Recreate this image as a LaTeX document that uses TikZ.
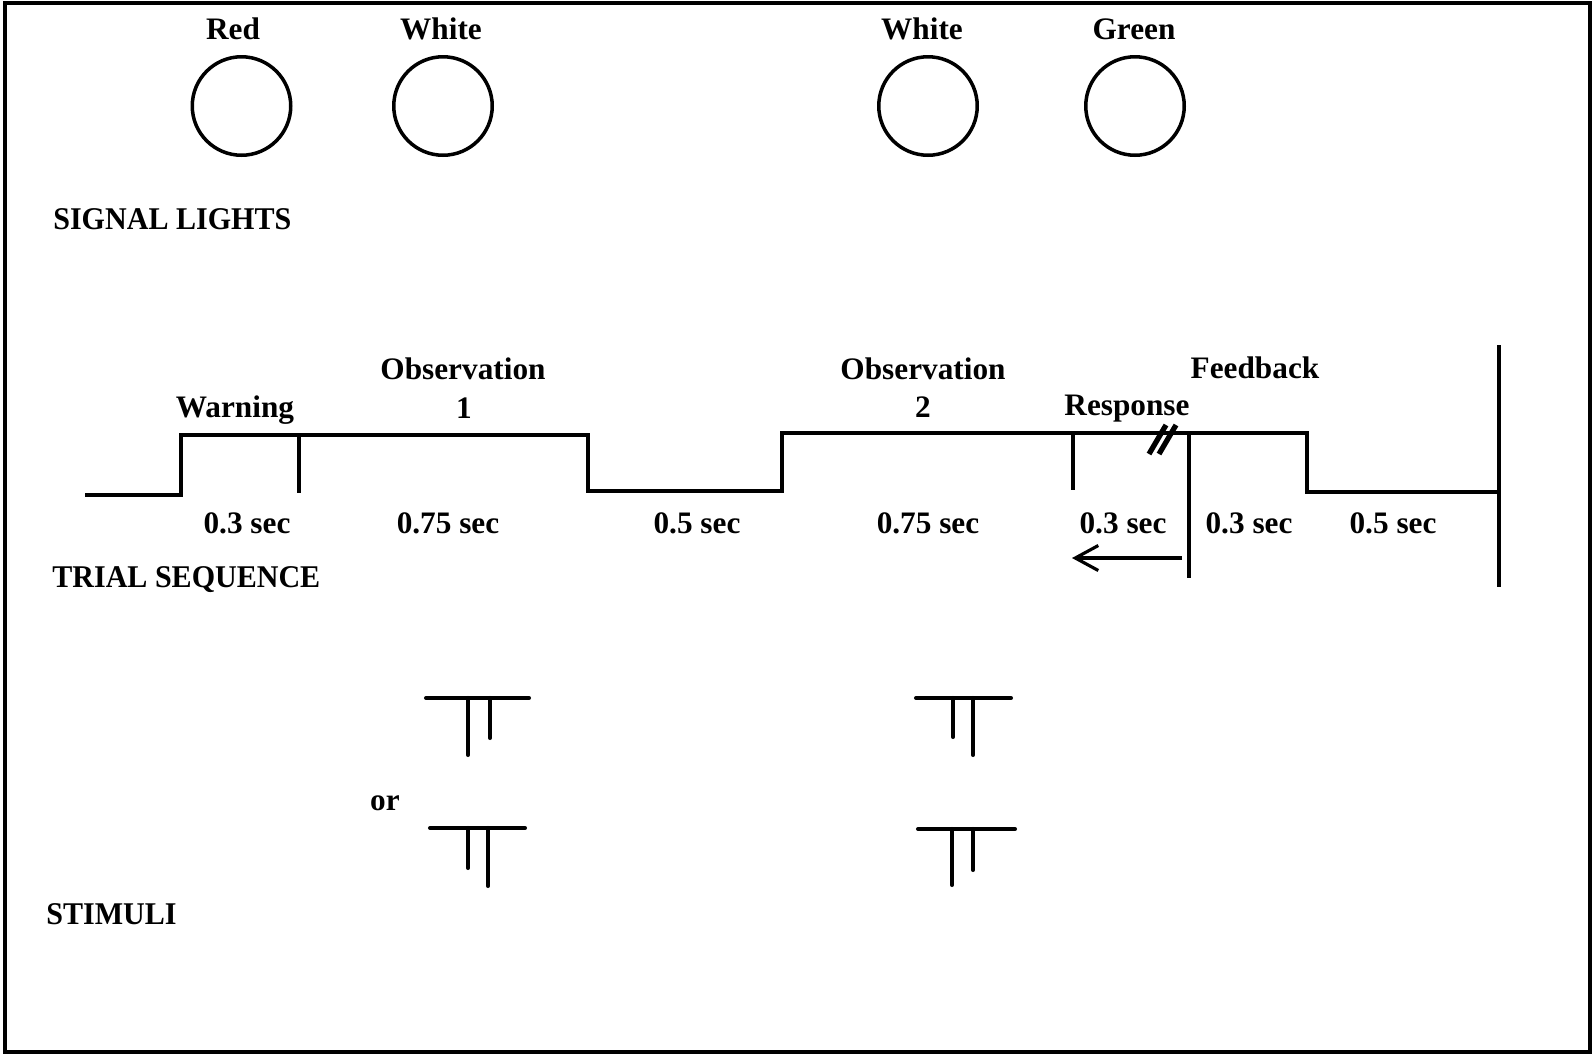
\documentclass[tikz,border=0pt]{standalone}
\usepackage{fontspec}
\setmainfont{Liberation Serif}
\newfontfamily\headfont[FakeStretch=0.95]{Liberation Serif Bold}
\usetikzlibrary{arrows.meta}

\begin{document}
\begin{tikzpicture}[
  x=0.02cm, y=-0.02cm,
  >={Straight Barb[length=4.6mm,width=5mm,line width=1.8pt]},
  lamp/.style={draw,circle,line width=2pt,minimum size=1.97cm,inner sep=0pt},
  lbl/.style={font=\fontsize{17.8}{20}\selectfont\bfseries,anchor=base,
              inner sep=0pt},
  head/.style={font=\headfont\fontsize{18}{20}\selectfont,
               anchor=base west,inner sep=0pt},
  wave/.style={line width=2.3pt},
  glyph/.style={line width=2.3pt,line cap=round},
]
\useasboundingbox (0,0) rectangle (1596,1056);
\draw[line width=2.3pt] (5,3) rectangle (1590,1052);

% signal lights
\node[lamp] (red)    at (241.5,106) {};
\node[lamp] (white1) at (443,106) {};
\node[lamp] (white2) at (928,106) {};
\node[lamp] (green)  at (1135,106) {};

\node[lbl] (lred)    at (233,39)  {Red};
\node[lbl] (lwhite1) at (441,39)  {White};
\node[lbl] (lwhite2) at (922,39)  {White};
\node[lbl] (lgreen)  at (1134,39) {Green};

\node[head] (sig) at (53,229) {SIGNAL LIGHTS};

% trial sequence
\draw[wave] (85,495) -- (181,495) -- (181,435) -- (588,435) -- (588,491)
  -- (782,491) -- (782,433) -- (1307,433) -- (1307,492) -- (1499,492);
\draw[wave] (299,435) -- (299,493);
\draw[wave] (1073,433) -- (1073,490);
\draw[wave] (1189,433) -- (1189,578);
\draw[wave] (1499,345) -- (1499,587);
\draw[line width=3pt] (1149,454) -- (1166,425);
\draw[line width=3pt] (1159,454) -- (1176,425);

\coordinate (back) at (1182,558);
\coordinate (resp) at (1072,558);
\draw[->,line width=1.8pt] (back) -- (resp);

\node[lbl] (warn)  at (235,417)  {Warning};
\node[lbl] (obs1)  at (463,379)  {Observation};
\node[lbl] (obs1n) at (464,418)  {1};
\node[lbl] (obs2)  at (923,379)  {Observation};
\node[lbl] (obs2n) at (923,417)  {2};
\node[lbl] (rsp)   at (1127,415) {Response};
\node[lbl] (fdb)   at (1255,378) {Feedback};

\node[lbl] (d1) at (247,533)  {0.3 sec};
\node[lbl] (d2) at (448,533)  {0.75 sec};
\node[lbl] (d3) at (697,533)  {0.5 sec};
\node[lbl] (d4) at (928,533)  {0.75 sec};
\node[lbl] (d5) at (1123,533) {0.3 sec};
\node[lbl] (d6) at (1249,533) {0.3 sec};
\node[lbl] (d7) at (1393,533) {0.5 sec};

\node[head] (trial) at (52,587) {TRIAL SEQUENCE};

% stimuli
\draw[glyph] (426,698) -- (529,698);
\draw[glyph] (468,698) -- (468,755);
\draw[glyph] (490,698) -- (490,738);

\draw[glyph] (916,698) -- (1011,698);
\draw[glyph] (953,698) -- (953,737);
\draw[glyph] (973,698) -- (973,755);

\draw[glyph] (430,828) -- (525,828);
\draw[glyph] (468,828) -- (468,868);
\draw[glyph] (488,828) -- (488,886);

\draw[glyph] (918,829) -- (1015,829);
\draw[glyph] (952,829) -- (952,885);
\draw[glyph] (973,829) -- (973,870);

\node[lbl] (or) at (385,810) {or};

\node[head] (stim) at (46,924) {STIMULI};

\end{tikzpicture}
\end{document}
